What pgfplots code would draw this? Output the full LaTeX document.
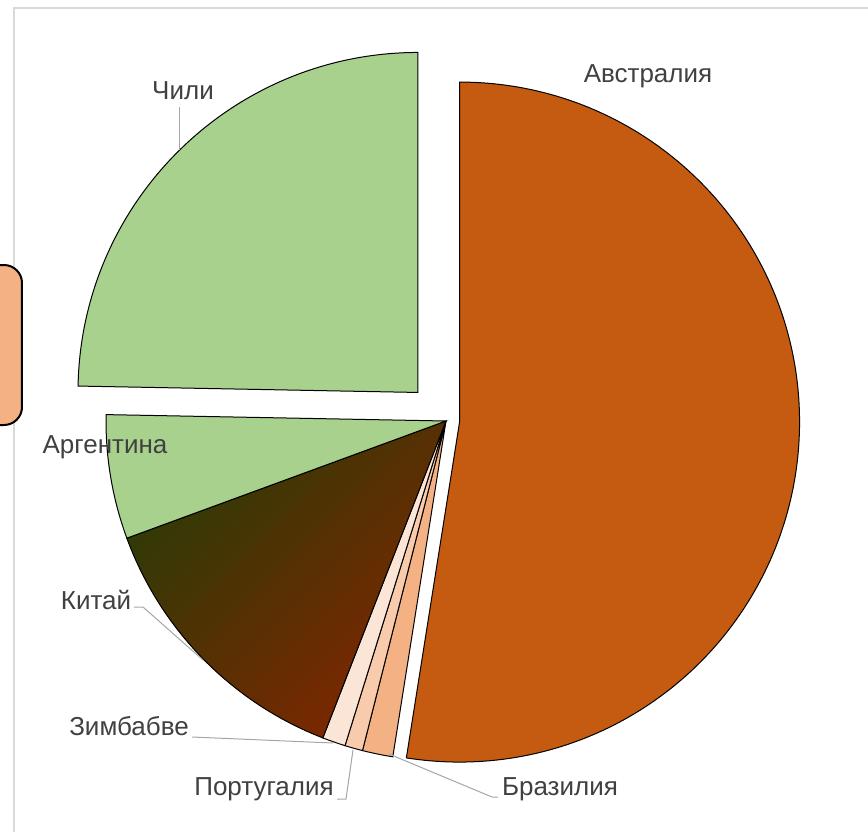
\documentclass[border=0pt]{standalone}
\usepackage{fontspec}
\setmainfont{Liberation Sans}
\usepackage{pgfplots}
\usepackage{pgfplotstable}
\pgfplotsset{compat=1.18}

\definecolor{aus}{HTML}{C55A11}
\definecolor{lgreen}{HTML}{A9D18E}
\definecolor{zim}{HTML}{FBE5D6}
\definecolor{por}{HTML}{F8CBAD}
\definecolor{bra}{HTML}{F4B183}
\definecolor{chinaA}{HTML}{2C3B07}
\definecolor{chinaB}{HTML}{802600}
\definecolor{labelgray}{HTML}{404040}
\definecolor{leader}{HTML}{A6A6A6}
\definecolor{framegray}{HTML}{D9D9D9}

% shares in percent, clockwise from 12 o'clock
\pgfplotstableread{
country value
Australia 52.5
Brazil 1.45
Portugal 0.85
Zimbabwe 1.1
China 13.5
Argentina 5.9
Chile 24.7
}\shares

% one wedge: start angle, end angle, explode distance, style
\newcommand\slice[4]{%
  \path (axis cs:446,421) ++({(#1+#2)/2}:#3) coordinate (o);
  \filldraw[black, line width=0.5pt, #4] (o) -- ++(#1:170pt)
    arc[start angle=#1, end angle=#2, radius=170pt] -- cycle;
}

\begin{document}
\begin{tikzpicture}
\useasboundingbox (0,0) rectangle (434pt,415.5pt);
\clip (0,0) rectangle (434pt,415.5pt);

% cumulative angles
\pgfplotstablegetelem{0}{value}\of\shares\let\vA\pgfplotsretval
\pgfplotstablegetelem{1}{value}\of\shares\let\vB\pgfplotsretval
\pgfplotstablegetelem{2}{value}\of\shares\let\vC\pgfplotsretval
\pgfplotstablegetelem{3}{value}\of\shares\let\vD\pgfplotsretval
\pgfplotstablegetelem{4}{value}\of\shares\let\vE\pgfplotsretval
\pgfplotstablegetelem{5}{value}\of\shares\let\vF\pgfplotsretval
\pgfplotstablegetelem{6}{value}\of\shares\let\vG\pgfplotsretval
\pgfmathsetmacro\aA{90}
\pgfmathsetmacro\aB{\aA-3.6*\vA}
\pgfmathsetmacro\aC{\aB-3.6*\vB}
\pgfmathsetmacro\aD{\aC-3.6*\vC}
\pgfmathsetmacro\aE{\aD-3.6*\vD}
\pgfmathsetmacro\aF{\aE-3.6*\vE}
\pgfmathsetmacro\aG{\aF-3.6*\vF}
\pgfmathsetmacro\aH{\aG-3.6*\vG}

\begin{axis}[
  x=0.5pt, y=0.5pt,
  xmin=0, xmax=868, ymin=0, ymax=831,
  y dir=reverse,
  enlargelimits=false,
  hide axis,
  clip=false,
]
% chart frame
\draw[framegray, line width=0.6pt] (axis cs:14,900) -- (axis cs:14,8) -- (axis cs:900,8);

% legend box at the left edge
\draw[black, line width=1pt, fill=bra, rounded corners=9pt]
  (axis cs:-40,265) rectangle (axis cs:22,425);

% wedges
\slice{\aA}{\aB}{6.8pt}{fill=aus}
\slice{\aB}{\aC}{0pt}{fill=bra}
\slice{\aC}{\aD}{0pt}{fill=por}
\slice{\aD}{\aE}{0pt}{fill=zim}
\slice{\aE}{\aF}{0pt}{top color=chinaA, bottom color=chinaB, shading angle=45, draw=black}
\slice{\aF}{\aG}{0pt}{fill=lgreen}
\slice{\aG}{\aH}{20pt}{fill=lgreen}

% leader lines
\draw[leader, line width=0.5pt] (axis cs:180,107) -- (axis cs:180,150);
\draw[leader, line width=0.5pt] (axis cs:134,607) -- (axis cs:143,607) -- (axis cs:203,660);
\draw[leader, line width=0.5pt] (axis cs:192,737) -- (axis cs:333,743);
\draw[leader, line width=0.5pt] (axis cs:337,799) -- (axis cs:346,799) -- (axis cs:353,750);
\draw[leader, line width=0.5pt] (axis cs:389,754) -- (axis cs:492,797) -- (axis cs:498,797);

% labels
\begin{scope}[every node/.style={text=labelgray, font=\fontsize{13pt}{15pt}\selectfont, inner sep=0pt}]
\node at (axis cs:648,76) {Австралия};
\node at (axis cs:183,91) {Чили};
\node at (axis cs:105,447) {Аргентина};
\node at (axis cs:96,600) {Китай};
\node at (axis cs:129,726) {Зимбабве};
\node at (axis cs:264,789) {Португалия};
\node at (axis cs:560,789) {Бразилия};
\end{scope}
\end{axis}
\end{tikzpicture}
\end{document}
